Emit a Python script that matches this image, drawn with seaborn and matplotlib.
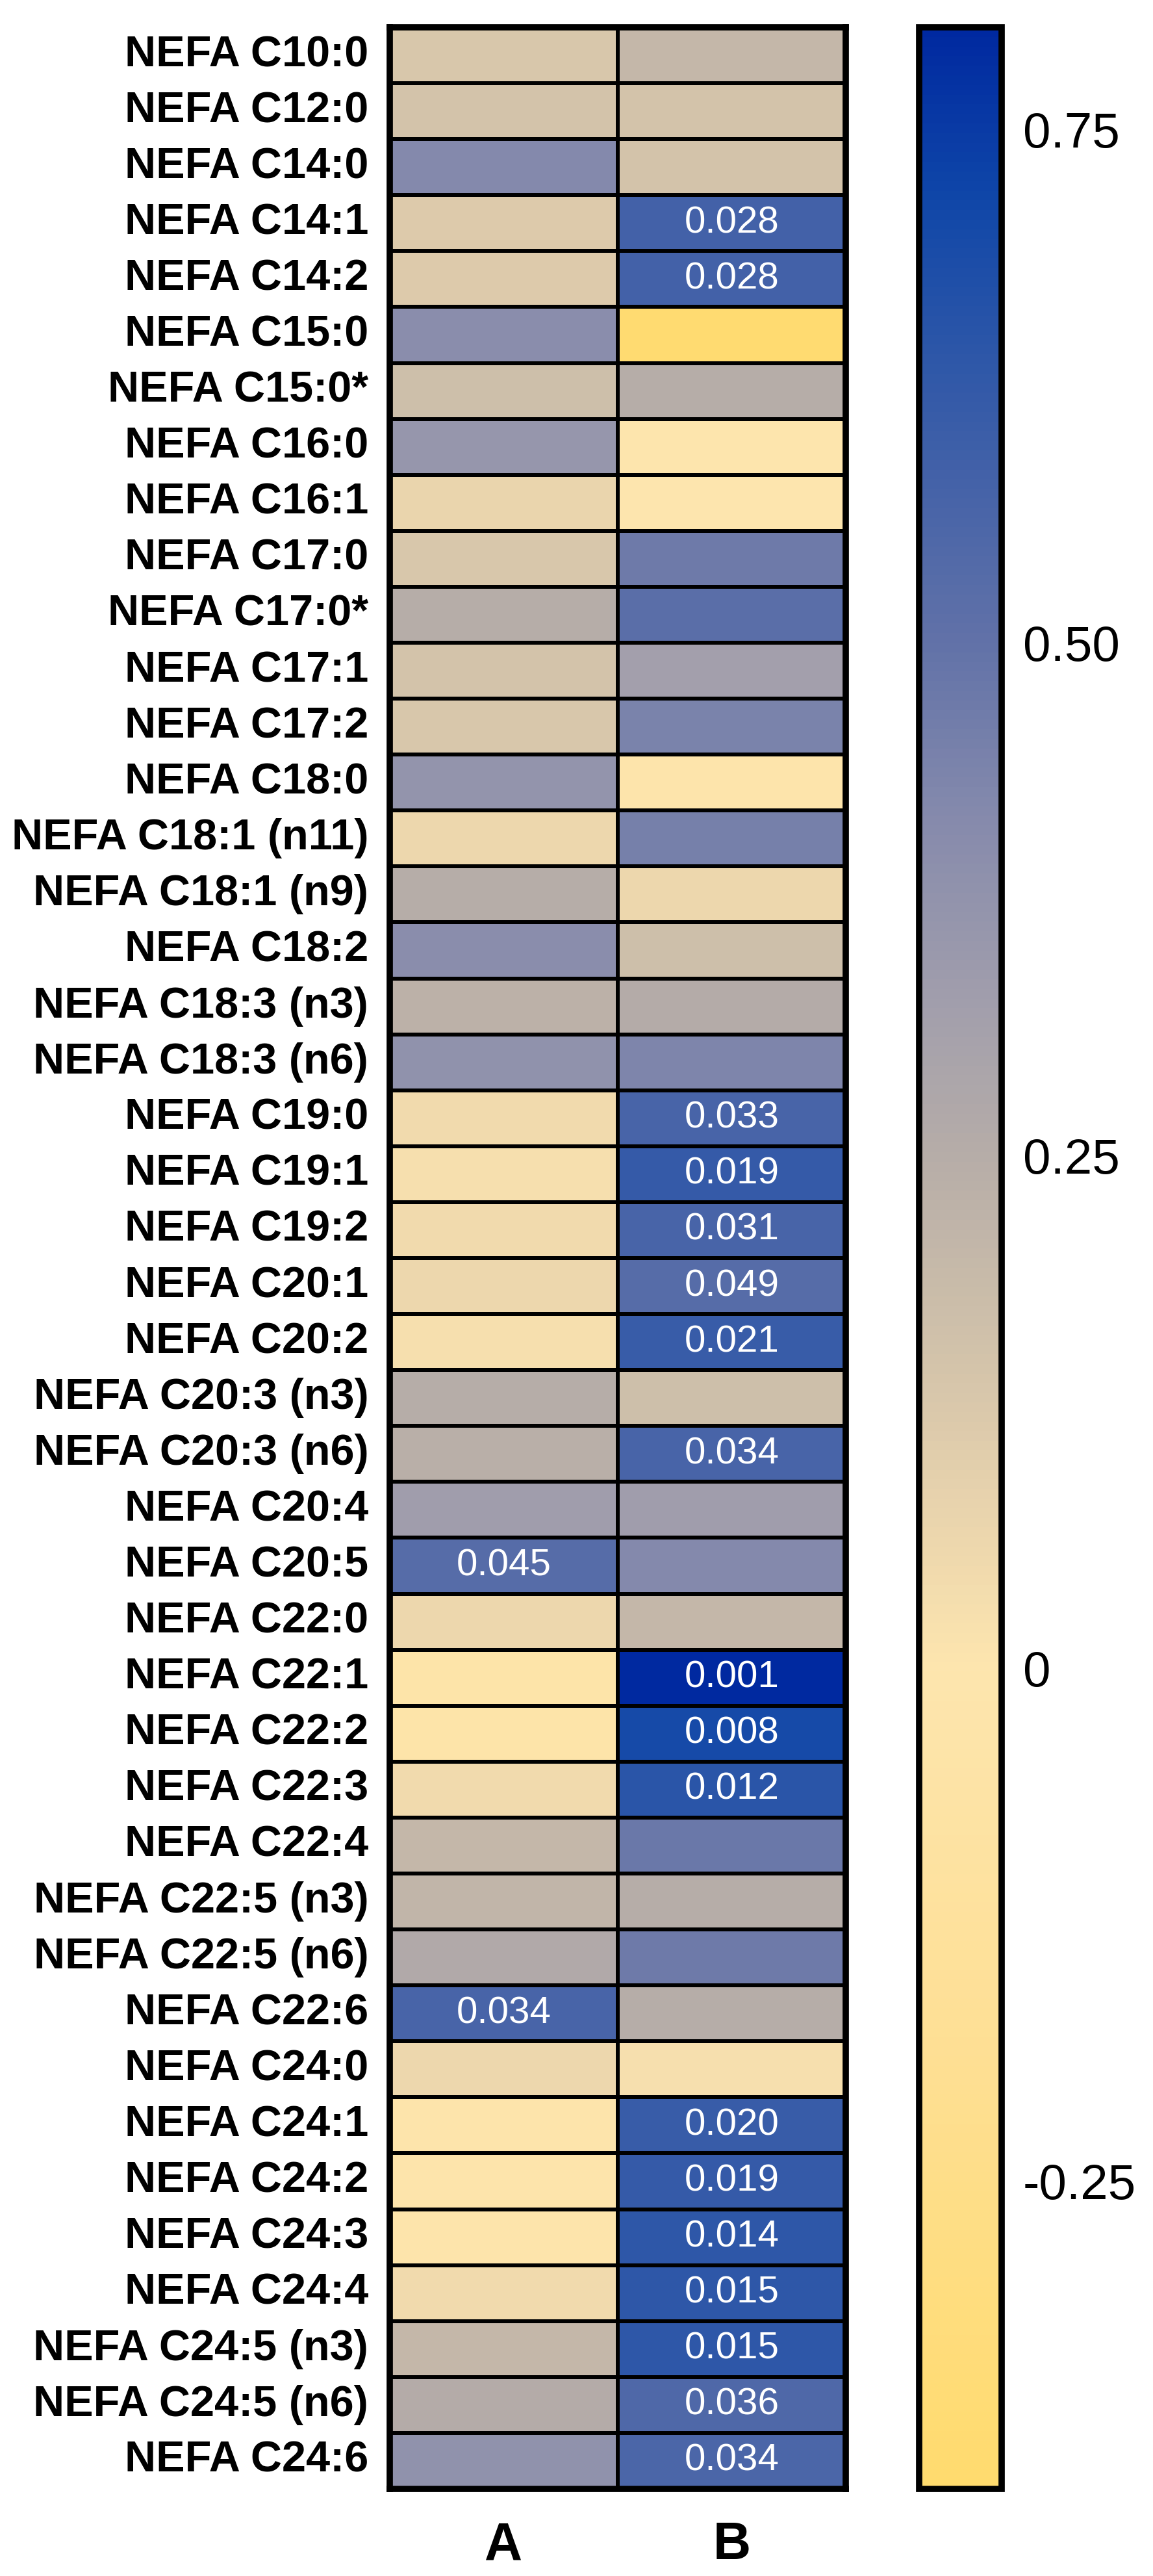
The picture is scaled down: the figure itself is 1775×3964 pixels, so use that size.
import numpy as np
import pandas as pd
import matplotlib
matplotlib.use('Agg')
import matplotlib.pyplot as plt
import seaborn as sns
from matplotlib.colors import LinearSegmentedColormap

sns.set_style('white')
plt.rcParams['font.family'] = ['Liberation Sans', 'DejaVu Sans']
plt.rcParams['text.color'] = 'black'
plt.rcParams['xtick.color'] = 'black'
plt.rcParams['ytick.color'] = 'black'

# Fatty acid rows
fatty_acids = [
    'NEFA C10:0', 'NEFA C12:0', 'NEFA C14:0', 'NEFA C14:1', 'NEFA C14:2',
    'NEFA C15:0', 'NEFA C15:0*', 'NEFA C16:0', 'NEFA C16:1', 'NEFA C17:0',
    'NEFA C17:0*', 'NEFA C17:1', 'NEFA C17:2', 'NEFA C18:0', 'NEFA C18:1 (n11)',
    'NEFA C18:1 (n9)', 'NEFA C18:2', 'NEFA C18:3 (n3)', 'NEFA C18:3 (n6)', 'NEFA C19:0',
    'NEFA C19:1', 'NEFA C19:2', 'NEFA C20:1', 'NEFA C20:2', 'NEFA C20:3 (n3)',
    'NEFA C20:3 (n6)', 'NEFA C20:4', 'NEFA C20:5', 'NEFA C22:0', 'NEFA C22:1',
    'NEFA C22:2', 'NEFA C22:3', 'NEFA C22:4', 'NEFA C22:5 (n3)', 'NEFA C22:5 (n6)',
    'NEFA C22:6', 'NEFA C24:0', 'NEFA C24:1', 'NEFA C24:2', 'NEFA C24:3',
    'NEFA C24:4', 'NEFA C24:5 (n3)', 'NEFA C24:5 (n6)', 'NEFA C24:6',
]
groups = ['A', 'B']

# Correlation coefficients
corr_A = [
    0.13, 0.15, 0.42, 0.12, 0.12,
    0.40, 0.17, 0.36, 0.07, 0.13,
    0.25, 0.15, 0.13, 0.37, 0.06,
    0.25, 0.40, 0.23, 0.38, 0.05,
    0.03, 0.05, 0.06, 0.03, 0.25,
    0.24, 0.33, 0.53, 0.06, -0.03,
    -0.03, 0.05, 0.20, 0.21, 0.27,
    0.57, 0.06, -0.02, -0.02, -0.02,
    0.05, 0.20, 0.26, 0.38,
]
corr_B = [
    0.20, 0.15, 0.15, 0.58, 0.58,
    -0.38, 0.25, -0.01, 0.00, 0.47,
    0.52, 0.32, 0.44, -0.02, 0.45,
    0.06, 0.17, 0.26, 0.43, 0.57,
    0.62, 0.57, 0.53, 0.61, 0.17,
    0.57, 0.33, 0.42, 0.20, 0.80,
    0.70, 0.65, 0.48, 0.25, 0.47,
    0.25, 0.03, 0.61, 0.62, 0.64,
    0.64, 0.64, 0.55, 0.56,
]

# Significant p-values shown in the cells
p_A = [''] * 27 + ['0.045'] + [''] * 7 + ['0.034'] + [''] * 8
p_B = [
    '', '', '', '0.028', '0.028',
    '', '', '', '', '',
    '', '', '', '', '',
    '', '', '', '', '0.033',
    '0.019', '0.031', '0.049', '0.021', '',
    '0.034', '', '', '', '0.001',
    '0.008', '0.012', '', '', '',
    '', '', '0.020', '0.019', '0.014',
    '0.015', '0.015', '0.036', '0.034',
]

cbar_ticks = [-0.25, 0, 0.25, 0.5, 0.75]
cbar_labels = ['-0.25', '0', '0.25', '0.50', '0.75']

df = pd.DataFrame({'A': corr_A, 'B': corr_B}, index=fatty_acids)
annot = pd.DataFrame({'A': p_A, 'B': p_B}, index=fatty_acids)

# yellow -> cream -> grey-beige -> blue
vmin, vmax = -0.4, 0.8
stops = [
    (-0.40, '#FFDB6E'),
    (-0.20, '#FEDF92'),
    (0.00, '#FDE5AE'),
    (0.08, '#E8D3AD'),
    (0.15, '#D3C3AA'),
    (0.25, '#B6ADA8'),
    (0.33, '#A09DAC'),
    (0.42, '#8489AC'),
    (0.50, '#6272A8'),
    (0.58, '#4462A8'),
    (0.65, '#2A55A8'),
    (0.72, '#0F46A8'),
    (0.80, '#0029A0'),
]
cmap = LinearSegmentedColormap.from_list(
    'yb', [((v - vmin) / (vmax - vmin), c) for v, c in stops])

fig = plt.figure(figsize=(17.75, 39.64), dpi=100)
ax = fig.add_axes([0.338, 0.0338, 0.3955, 0.9556])
cax = fig.add_axes([0.797, 0.0338, 0.0716, 0.9556])

sns.heatmap(df, ax=ax, cbar_ax=cax, cmap=cmap, vmin=vmin, vmax=vmax,
            annot=annot.values, fmt='',
            annot_kws=dict(color='white', fontsize=42),
            linewidths=3, linecolor='black')

ax.tick_params(left=False, bottom=False, pad=20)
ax.set_yticklabels(fatty_acids, rotation=0, fontsize=48, fontweight='bold')
ax.set_xticklabels(groups, fontsize=58, fontweight='bold')
ax.tick_params(axis='x', pad=32)
ax.set_xlabel('')
ax.set_ylabel('')
for s in ax.spines.values():
    s.set_visible(True)
    s.set_linewidth(7)
    s.set_color('black')

cbar = ax.collections[0].colorbar
cbar.set_ticks(cbar_ticks)
cbar.set_ticklabels(cbar_labels)
cbar.outline.set_linewidth(7)
cbar.outline.set_edgecolor('black')
cax.tick_params(direction='in', length=18, width=3, left=True, right=True,
                labelsize=55, pad=24, colors='black')

fig.savefig('out.png', dpi=100)
plt.close()
